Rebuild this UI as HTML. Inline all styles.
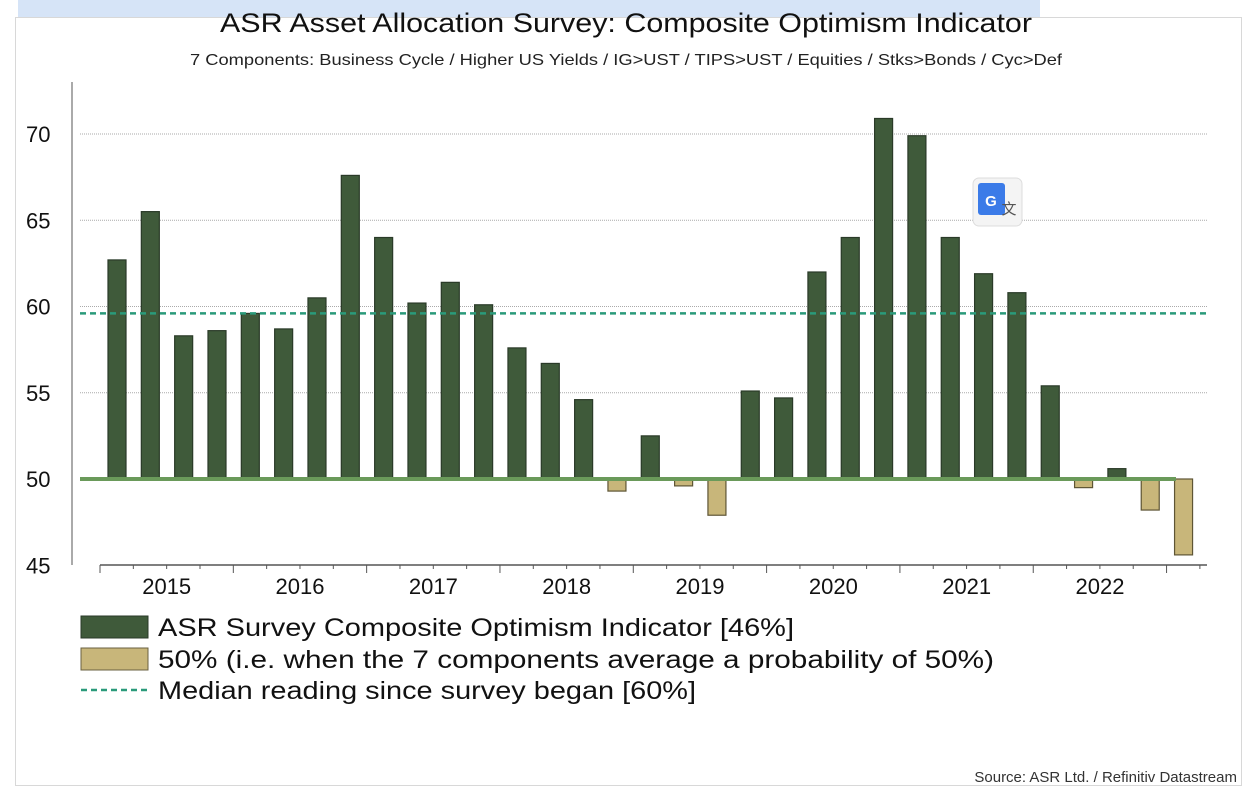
<!DOCTYPE html>
<html><head><meta charset="utf-8"><style>
body{margin:0;background:#fff;}
svg{display:block;font-family:"Liberation Sans",sans-serif;}
</style></head><body>
<svg width="1260" height="790">
<rect x="0" y="0" width="1260" height="790" fill="#fff"/>
<rect x="18" y="0" width="1022" height="17" fill="#d6e4f7"/>
<rect x="15.5" y="17.5" width="1226" height="768" fill="none" stroke="#d8d8d8"/>
<text x="626" y="32" text-anchor="middle" font-size="27" fill="#111" textLength="812" lengthAdjust="spacingAndGlyphs">ASR Asset Allocation Survey: Composite Optimism Indicator</text>
<text x="626" y="65" text-anchor="middle" font-size="16" fill="#222" textLength="872" lengthAdjust="spacingAndGlyphs">7 Components: Business Cycle / Higher US Yields / IG&gt;UST / TIPS&gt;UST / Equities / Stks&gt;Bonds / Cyc&gt;Def</text>
<g id="plot"></g>
<g>
<g><rect x="81" y="616" width="67" height="22" fill="#3f5a3a" stroke="#2a3a28"/><text x="158" y="636" font-size="25" fill="#111" textLength="636" lengthAdjust="spacingAndGlyphs">ASR Survey Composite Optimism Indicator [46%]</text></g>
<g><rect x="81" y="648" width="67" height="22" fill="#c8b67a" stroke="#6a6040"/><text x="158" y="668" font-size="25" fill="#111" textLength="836" lengthAdjust="spacingAndGlyphs">50% (i.e. when the 7 components average a probability of 50%)</text></g>
<g><line x1="81" y1="690" x2="148" y2="690" stroke="#2a9a7a" stroke-width="2.5" stroke-dasharray="6,4"/><text x="158" y="699" font-size="25" fill="#111" textLength="538" lengthAdjust="spacingAndGlyphs">Median reading since survey began [60%]</text></g>
</g>
<text x="1237" y="782" text-anchor="end" font-size="15" fill="#333">Source: ASR Ltd. / Refinitiv Datastream</text>
<g><rect x="973" y="178" width="49" height="48" rx="6" fill="#f4f4f4" stroke="#ddd"/><rect x="978" y="183" width="27" height="32" rx="3" fill="#3b7be8"/><text x="991" y="206" font-size="15" font-weight="bold" fill="#fff" text-anchor="middle">G</text><text x="1009" y="214" font-size="15" fill="#555" text-anchor="middle">文</text></g>
</svg>
<script>
const values=[62.7,65.5,58.3,58.6,59.6,58.7,60.5,67.6,64.0,60.2,61.4,60.1,57.6,56.7,54.6,49.3,52.5,49.6,47.9,55.1,54.7,62.0,64.0,70.9,69.9,64.0,61.9,60.8,55.4,49.5,50.6,48.2,45.6];
const years=["2015","2016","2017","2018","2019","2020","2021","2022"];
const yTicks=[45,50,55,60,65,70];
const median=[59.6];
const baseline=[50];
const NS="http://www.w3.org/2000/svg";
const g=document.getElementById('plot');
const y=v=>479-(v-50)*17.25;
const x=i=>117+i*33.33;
function mk(t,a){const e=document.createElementNS(NS,t);for(const k in a)e.setAttribute(k,a[k]);g.appendChild(e);return e;}
// gridlines and y labels
yTicks.forEach(v=>{
  if(v>50){const l=mk('line',{x1:80,x2:1207,y1:y(v),y2:y(v),stroke:'#aaa','stroke-dasharray':'1,1'});
  
  }
  const t=mk('text',{x:26,y:y(v)+8,'font-size':22,fill:'#111'});t.textContent=v;
  
  
});
const ya=mk('line',{x1:72,x2:72,y1:82,y2:565,stroke:'#555'});


const xa=mk('line',{x1:100,x2:1207,y1:565,y2:565,stroke:'#555','stroke-width':1.5});


// ticks
for(let q=0;q<=values.length;q++){
  const xx=100+q*33.33;
  if(xx>1207)break;
  mk('line',{x1:xx,x2:xx,y1:565,y2:q%4===0?573:569,stroke:'#555'});
}
years.forEach((yr,i)=>{
  const t=mk('text',{x:100+i*133.33+66.7,y:594,'font-size':22,fill:'#111','text-anchor':'middle'});
  t.textContent=yr;
  
  
});
// bars
values.forEach((v,i)=>{
  const pos=v>=50;
  const top=pos?y(v):y(50), h=Math.abs(y(v)-y(50));
  const r=mk('rect',{x:x(i)-9,y:top,width:18,height:h,fill:pos?'#3f5a3a':'#c8b67a',stroke:pos?'#2a3a28':'#5e5535','stroke-width':1.2});
  
  
});
const bl=mk('line',{x1:80,x2:1176,y1:y(baseline[0]),y2:y(baseline[0]),stroke:'#6a9a5a','stroke-width':4});


const md=mk('line',{x1:80,x2:1207,y1:y(median[0]),y2:y(median[0]),stroke:'#2a9a7a','stroke-width':2.5,'stroke-dasharray':'6,4'});


</script>
</body></html>
